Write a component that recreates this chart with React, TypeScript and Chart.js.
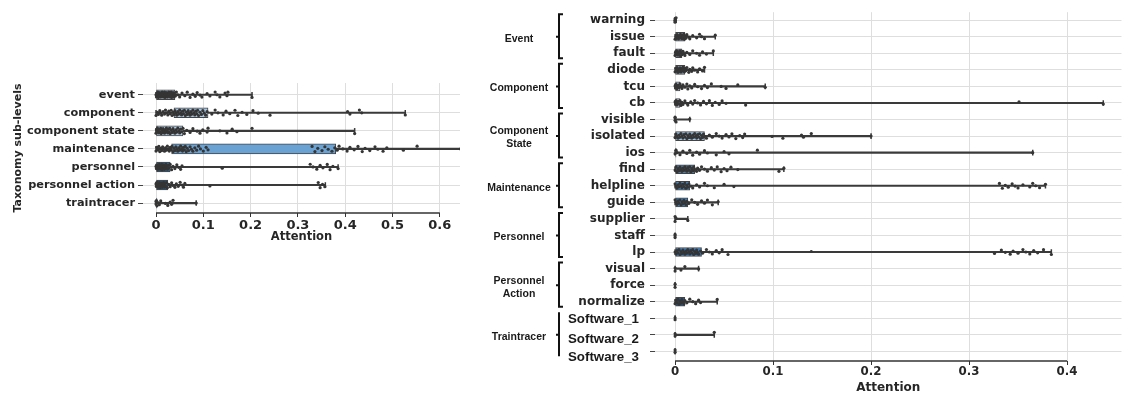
import React, { useEffect, useRef } from 'react';
import { Chart, registerables } from 'chart.js';

Chart.register(...registerables);

// ---------------- data: left panel ----------------
const leftCategories = ['event', 'component', 'component state', 'maintenance', 'personnel', 'personnel action', 'traintracer'];
const leftBoxLow = [0, 0.038, 0, 0.033, 0, 0, 0];
const leftBoxHigh = [0.04, 0.11, 0.057, 0.38, 0.03, 0.025, 0.002];
const leftWhiskerLow = [0, 0, 0, 0, 0, 0, 0];
const leftWhiskerHigh = [0.203, 0.527, 0.42, 0.66, 0.385, 0.358, 0.085];
const leftPoints: number[][] = [
  [0, 0.001, 0.002, 0.003, 0.004, 0.005, 0.006, 0.007, 0.008, 0.009, 0.01, 0.011, 0.012, 0.013, 0.014, 0.015, 0.016, 0.017, 0.018, 0.019, 0.02, 0.021, 0.022, 0.023, 0.024, 0.025, 0.026, 0.027, 0.028, 0.029, 0.03, 0.031, 0.032, 0.033, 0.034, 0.035, 0.036, 0.037, 0.038, 0.039, 0.041, 0.043, 0.046, 0.05, 0.055, 0.061, 0.066, 0.072, 0.078, 0.083, 0.087, 0.093, 0.097, 0.108, 0.114, 0.125, 0.129, 0.135, 0.146, 0.15, 0.152, 0.203],
  [0, 0.003, 0.005, 0.008, 0.01, 0.012, 0.015, 0.018, 0.02, 0.022, 0.025, 0.027, 0.03, 0.032, 0.034, 0.036, 0.038, 0.04, 0.042, 0.044, 0.046, 0.048, 0.05, 0.052, 0.054, 0.056, 0.058, 0.06, 0.062, 0.064, 0.066, 0.068, 0.07, 0.072, 0.074, 0.076, 0.078, 0.08, 0.082, 0.084, 0.086, 0.088, 0.09, 0.093, 0.096, 0.099, 0.102, 0.105, 0.108, 0.118, 0.125, 0.131, 0.142, 0.148, 0.156, 0.167, 0.173, 0.182, 0.192, 0.205, 0.216, 0.241, 0.405, 0.41, 0.43, 0.435, 0.527],
  [0, 0.001, 0.002, 0.003, 0.005, 0.006, 0.007, 0.009, 0.01, 0.011, 0.013, 0.014, 0.015, 0.017, 0.018, 0.019, 0.021, 0.022, 0.023, 0.025, 0.026, 0.027, 0.029, 0.03, 0.032, 0.034, 0.036, 0.038, 0.04, 0.042, 0.044, 0.046, 0.048, 0.05, 0.052, 0.054, 0.057, 0.06, 0.065, 0.072, 0.078, 0.087, 0.093, 0.099, 0.108, 0.11, 0.135, 0.15, 0.161, 0.171, 0.203, 0.42],
  [0, 0.002, 0.004, 0.006, 0.008, 0.01, 0.012, 0.014, 0.016, 0.018, 0.02, 0.022, 0.024, 0.026, 0.028, 0.03, 0.032, 0.034, 0.036, 0.038, 0.04, 0.042, 0.044, 0.046, 0.048, 0.05, 0.052, 0.054, 0.056, 0.058, 0.06, 0.062, 0.064, 0.066, 0.069, 0.072, 0.075, 0.078, 0.082, 0.086, 0.09, 0.094, 0.1, 0.106, 0.11, 0.33, 0.336, 0.342, 0.351, 0.357, 0.364, 0.372, 0.378, 0.383, 0.387, 0.395, 0.404, 0.41, 0.419, 0.427, 0.436, 0.442, 0.452, 0.463, 0.469, 0.48, 0.488, 0.523, 0.552, 0.644],
  [0, 0.001, 0.002, 0.003, 0.004, 0.005, 0.006, 0.007, 0.008, 0.009, 0.01, 0.011, 0.012, 0.013, 0.014, 0.015, 0.016, 0.017, 0.018, 0.019, 0.02, 0.021, 0.022, 0.024, 0.026, 0.028, 0.03, 0.033, 0.036, 0.04, 0.044, 0.048, 0.052, 0.055, 0.14, 0.326, 0.332, 0.34, 0.347, 0.353, 0.362, 0.368, 0.374, 0.385],
  [0, 0.001, 0.002, 0.003, 0.004, 0.005, 0.006, 0.007, 0.008, 0.009, 0.01, 0.011, 0.012, 0.013, 0.014, 0.015, 0.016, 0.017, 0.018, 0.019, 0.02, 0.022, 0.024, 0.027, 0.03, 0.033, 0.036, 0.04, 0.043, 0.047, 0.051, 0.055, 0.058, 0.061, 0.114, 0.343, 0.347, 0.352, 0.357],
  [0, 0, 0.001, 0.002, 0.004, 0.007, 0.01, 0.02, 0.025, 0.03, 0.033, 0.036, 0.085],
];
const leftXTicks = [0, 0.1, 0.2, 0.3, 0.4, 0.5, 0.6];
const leftXTickLabels = ['0', '0.1', '0.2', '0.3', '0.4', '0.5', '0.6'];

// ---------------- data: right panel ----------------
const rightCategories = ['warning', 'issue', 'fault', 'diode', 'tcu', 'cb', 'visible', 'isolated', 'ios', 'find', 'helpline', 'guide', 'supplier', 'staff', 'lp', 'visual', 'force', 'normalize', 'Software_1', 'Software_2', 'Software_3'];
const rightBoxLow = [0, 0, 0, 0, 0, 0, 0, 0, 0, 0, 0, 0, 0, 0, 0, 0, 0, 0, 0, 0, 0];
const rightBoxHigh = [0, 0.01, 0.007, 0.01, 0.005, 0.005, 0, 0.03, 0.001, 0.02, 0.015, 0.013, 0, 0, 0.027, 0, 0, 0.01, 0, 0, 0];
const rightWhiskerLow = [0, 0, 0, 0, 0, 0, 0, 0, 0, 0, 0, 0, 0, 0, 0, 0, 0, 0, 0, 0, 0];
const rightWhiskerHigh = [0.001, 0.041, 0.039, 0.03, 0.092, 0.437, 0.015, 0.2, 0.365, 0.111, 0.378, 0.044, 0.013, 0, 0.384, 0.024, 0, 0.043, 0, 0.04, 0];
const rightPoints: number[][] = [
  [0, 0, 0, 0, 0.001],
  [0, 0.001, 0.0015, 0.002, 0.003, 0.0035, 0.004, 0.005, 0.0055, 0.006, 0.007, 0.0075, 0.008, 0.009, 0.0095, 0.01, 0.011, 0.012, 0.014, 0.015, 0.018, 0.022, 0.025, 0.027, 0.03, 0.041],
  [0, 0.0005, 0.001, 0.0015, 0.002, 0.003, 0.0035, 0.004, 0.005, 0.0055, 0.006, 0.007, 0.008, 0.009, 0.01, 0.012, 0.015, 0.018, 0.022, 0.025, 0.028, 0.032, 0.039],
  [0, 0.001, 0.0015, 0.002, 0.003, 0.0035, 0.004, 0.005, 0.0055, 0.006, 0.007, 0.0075, 0.008, 0.009, 0.0095, 0.01, 0.011, 0.012, 0.014, 0.015, 0.017, 0.018, 0.02, 0.023, 0.025, 0.028, 0.03],
  [0, 0.0005, 0.001, 0.0015, 0.002, 0.003, 0.004, 0.005, 0.006, 0.007, 0.008, 0.01, 0.012, 0.013, 0.015, 0.017, 0.02, 0.023, 0.027, 0.03, 0.033, 0.037, 0.047, 0.052, 0.064, 0.092],
  [0, 0.0005, 0.001, 0.0015, 0.002, 0.003, 0.004, 0.005, 0.006, 0.007, 0.008, 0.01, 0.012, 0.013, 0.016, 0.018, 0.02, 0.023, 0.026, 0.029, 0.032, 0.035, 0.038, 0.041, 0.045, 0.048, 0.052, 0.072, 0.351, 0.437],
  [0, 0, 0, 0.001, 0.015],
  [0, 0.001, 0.002, 0.003, 0.004, 0.005, 0.006, 0.007, 0.008, 0.009, 0.01, 0.011, 0.012, 0.013, 0.014, 0.015, 0.016, 0.017, 0.018, 0.019, 0.02, 0.021, 0.022, 0.023, 0.024, 0.025, 0.026, 0.027, 0.028, 0.029, 0.03, 0.032, 0.035, 0.038, 0.042, 0.045, 0.048, 0.052, 0.055, 0.058, 0.062, 0.066, 0.069, 0.071, 0.099, 0.11, 0.129, 0.131, 0.139, 0.2],
  [0, 0.001, 0.002, 0.005, 0.008, 0.012, 0.015, 0.018, 0.022, 0.025, 0.03, 0.033, 0.042, 0.05, 0.055, 0.084, 0.365],
  [0, 0.001, 0.002, 0.003, 0.004, 0.005, 0.006, 0.007, 0.008, 0.009, 0.01, 0.011, 0.012, 0.013, 0.014, 0.015, 0.016, 0.017, 0.018, 0.019, 0.02, 0.022, 0.023, 0.025, 0.027, 0.03, 0.033, 0.037, 0.04, 0.043, 0.047, 0.05, 0.053, 0.057, 0.064, 0.106, 0.111],
  [0, 0.001, 0.002, 0.003, 0.004, 0.005, 0.006, 0.007, 0.008, 0.009, 0.01, 0.011, 0.012, 0.013, 0.014, 0.016, 0.018, 0.022, 0.025, 0.03, 0.033, 0.04, 0.05, 0.06, 0.331, 0.334, 0.337, 0.34, 0.344, 0.347, 0.35, 0.355, 0.362, 0.365, 0.368, 0.372, 0.378],
  [0, 0.001, 0.002, 0.003, 0.004, 0.005, 0.006, 0.007, 0.008, 0.009, 0.01, 0.011, 0.012, 0.014, 0.017, 0.02, 0.023, 0.027, 0.03, 0.033, 0.038, 0.044],
  [0, 0, 0.001, 0.013],
  [0, 0, 0],
  [0, 0.001, 0.002, 0.003, 0.004, 0.005, 0.006, 0.007, 0.008, 0.009, 0.01, 0.011, 0.012, 0.013, 0.014, 0.015, 0.016, 0.017, 0.018, 0.019, 0.02, 0.021, 0.022, 0.023, 0.024, 0.026, 0.028, 0.032, 0.035, 0.038, 0.042, 0.045, 0.048, 0.054, 0.139, 0.326, 0.333, 0.337, 0.342, 0.345, 0.35, 0.355, 0.358, 0.362, 0.366, 0.37, 0.376, 0.384],
  [0, 0, 0.006, 0.01, 0.024],
  [0, 0],
  [0, 0.001, 0.002, 0.003, 0.004, 0.005, 0.006, 0.007, 0.008, 0.009, 0.01, 0.012, 0.015, 0.018, 0.021, 0.024, 0.026, 0.043],
  [0, 0],
  [0, 0, 0.04],
  [0, 0],
];
const rightGroupNames = ['Event', 'Component', 'Component\nState', 'Maintenance', 'Personnel', 'Personnel\nAction', 'Traintracer'];
const rightGroupFirst = [0, 3, 6, 9, 12, 15, 18];
const rightGroupLast = [2, 5, 8, 11, 14, 17, 20];
const rightXTicks = [0, 0.1, 0.2, 0.3, 0.4];
const rightXTickLabels = ['0', '0.1', '0.2', '0.3', '0.4'];

// ---------------- styles ----------------
const leftBoxColors = ['#a9bfd6', '#a7c6e2', '#b3cfe8', '#6aa3d3', '#2f6a9f', '#245e95', '#3d7bb5'];
const rightBoxColors = ['#c4d7ea', '#8ea7c0', '#9bb0c6', '#8ea3b8', '#b7cde3', '#c1d5e9', '#c8dcef', '#9fc7e8', '#c4d7ea', '#4f7fab', '#4a8fca', '#3f86c6', '#c4d7ea', '#c4d7ea', '#3a7dbd', '#c4d7ea', '#c4d7ea', '#2a5e95', '#c4d7ea', '#c4d7ea', '#c4d7ea'];
const bracketStubs = [true, true, true, true, true, true, false];
const softwareLabelOffsets = [1, 5, 6];
const jitter = [0, 0.12, -0.09, 0.05, -0.14, 0.15, -0.03, 0.09, -0.12, 0.02, 0.13, -0.06, 0.07, -0.15];
const TEXT = '#262626';
const FONT = "'DejaVu Sans'";

function buildDatasets(
  cats: string[], q1: number[], q3: number[], wLo: number[], wHi: number[], pts: number[][],
  colors: string[], boxPx: number, capR: number
): any[] {
  return [
    {
      type: 'scatter',
      data: pts.flatMap((row, i) => row.map((v, k) => ({ x: v, y: i + jitter[(k + i * 5) % jitter.length] }))),
      pointRadius: 1.6,
      pointBackgroundColor: '#353535',
      pointBorderWidth: 0,
      order: 1,
    },
    {
      type: 'scatter',
      data: cats.flatMap((_, i) => [{ x: wLo[i], y: i }, { x: wHi[i], y: i }]),
      pointStyle: 'line',
      rotation: 90,
      pointRadius: capR,
      pointBorderColor: '#383838',
      pointBorderWidth: 1.5,
      order: 2,
    },
    {
      type: 'bar',
      indexAxis: 'y',
      grouped: false,
      data: cats.map((_, i) => ({ x: [q1[i], q3[i]], y: i })),
      backgroundColor: colors,
      borderColor: '#444444',
      borderWidth: 1,
      borderSkipped: false,
      barThickness: boxPx,
      maxBarThickness: boxPx,
      clip: 0,
      order: 3,
    },
    {
      type: 'bar',
      indexAxis: 'y',
      grouped: false,
      data: cats.map((_, i) => ({ x: [wLo[i], wHi[i]], y: i })),
      backgroundColor: '#3a3a3a',
      borderWidth: 0,
      barThickness: 1.5,
      maxBarThickness: 1.5,
      clip: 0,
      order: 4,
    },
  ];
}

function trimSpine(lastTick: number) {
  return {
    id: 'trimSpine',
    afterDraw(chart: any) {
      const { ctx, chartArea, scales } = chart;
      const x0 = scales.x.getPixelForValue(0);
      const x1 = scales.x.getPixelForValue(lastTick);
      ctx.save();
      ctx.strokeStyle = '#333333';
      ctx.lineWidth = 1.3;
      ctx.beginPath();
      ctx.moveTo(x0, chartArea.bottom);
      ctx.lineTo(x1, chartArea.bottom);
      ctx.stroke();
      ctx.restore();
    },
  };
}

const groupPlugin = {
  id: 'groups',
  afterDraw(chart: any) {
    const { ctx } = chart;
    const y = chart.scales.y;
    ctx.save();
    rightGroupNames.forEach((name, g) => {
      const top = y.getPixelForValue(rightGroupFirst[g] - 0.36);
      const bot = y.getPixelForValue(rightGroupLast[g] + 0.3);
      const mid = y.getPixelForValue((rightGroupFirst[g] + rightGroupLast[g]) / 2);
      const bx = 89;
      ctx.strokeStyle = '#111111';
      ctx.lineWidth = 2;
      ctx.beginPath();
      if (bracketStubs[g]) {
        ctx.moveTo(bx + 4, top);
        ctx.lineTo(bx, top);
        ctx.lineTo(bx, bot);
        ctx.lineTo(bx + 4, bot);
      } else {
        ctx.moveTo(bx, top);
        ctx.lineTo(bx, bot);
      }
      ctx.moveTo(bx, mid);
      ctx.lineTo(bx - 3, mid);
      ctx.stroke();
      const lines = name.split('\n');
      ctx.fillStyle = '#1a1a1a';
      ctx.font = 'bold 10.5px "Liberation Sans"';
      ctx.textAlign = 'center';
      ctx.textBaseline = 'middle';
      lines.forEach((ln, k) => ctx.fillText(ln, 49, mid + 2 + (k - (lines.length - 1) / 2) * 13));
    });
    ctx.font = 'bold 13.3px "Liberation Sans"';
    ctx.textAlign = 'left';
    ctx.textBaseline = 'middle';
    ctx.fillStyle = '#1a1a1a';
    let s = 0;
    rightCategories.forEach((c, i) => {
      if (c.startsWith('Software')) {
        ctx.fillText(c, 98, y.getPixelForValue(i) + softwareLabelOffsets[s]);
        s++;
      }
    });
    ctx.restore();
  },
};

function makeScales(
  xMin: number, xMax: number, xH: number, xTicks: number[], xLabels: string[], xTickSize: number,
  xTickPad: number, xTitleSize: number, xTitlePad: number,
  cats: string[], yMin: number, yMax: number, yW: number, yTickSize: number, yTickPad: number,
  yLabel: (c: string) => string, yTitle: any
) {
  return {
    x: {
      type: 'linear',
      offset: false,
      min: xMin,
      max: xMax,
      afterFit: (s: any) => { s.height = xH; },
      afterBuildTicks: (s: any) => { s.ticks = xTicks.map((v) => ({ value: v })); },
      ticks: {
        callback: (_v: any, i: number) => xLabels[i],
        font: { family: FONT, size: xTickSize, weight: 'bold' },
        color: TEXT,
        padding: xTickPad,
        maxRotation: 0,
        autoSkip: false,
      },
      grid: { offset: false, color: '#dedede', lineWidth: 1, tickColor: '#333333', tickLength: 4 },
      border: { display: false },
      title: { display: true, text: 'Attention', font: { family: FONT, size: xTitleSize, weight: 'bold' }, color: TEXT, padding: { top: 0, bottom: xTitlePad } },
    },
    y: {
      type: 'linear',
      offset: false,
      reverse: true,
      min: yMin,
      max: yMax,
      afterFit: (s: any) => { s.width = yW; },
      afterBuildTicks: (s: any) => { s.ticks = cats.map((_, i) => ({ value: i })); },
      ticks: {
        callback: (v: any) => yLabel(cats[Math.round(v)]),
        font: { family: FONT, size: yTickSize, weight: 'bold' },
        color: TEXT,
        padding: yTickPad,
        autoSkip: false,
      },
      grid: { offset: false, color: '#dedede', lineWidth: 1, tickColor: '#444444', tickLength: 5 },
      border: { display: false },
      title: yTitle,
    },
  };
}

export default function App() {
  const leftRef = useRef<HTMLCanvasElement>(null);
  const rightRef = useRef<HTMLCanvasElement>(null);

  useEffect(() => {
    const left = new Chart(leftRef.current as HTMLCanvasElement, {
      type: 'scatter',
      data: {
        datasets: buildDatasets(leftCategories, leftBoxLow, leftBoxHigh, leftWhiskerLow, leftWhiskerHigh, leftPoints, leftBoxColors, 10, 2.8),
      },
      options: {
        responsive: false,
        animation: false,
        events: [],
        layout: { padding: { top: 83, right: 10, bottom: 7, left: 0 } },
        plugins: { legend: { display: false }, tooltip: { enabled: false } },
        scales: makeScales(
          -0.0275, 0.6427, 40, leftXTicks, leftXTickLabels, 13, 1, 11.5, 9.4,
          leftCategories, -0.65, 6.55, 143, 11.3, 3, (c) => c,
          { display: true, text: 'Taxonomy sub-levels', font: { family: FONT, size: 11, weight: 'bold' }, color: TEXT, padding: { top: 11.4, bottom: 0 } }
        ),
      } as any,
      plugins: [trimSpine(0.6)],
    });

    const right = new Chart(rightRef.current as HTMLCanvasElement, {
      type: 'scatter',
      data: {
        datasets: buildDatasets(rightCategories, rightBoxLow, rightBoxHigh, rightWhiskerLow, rightWhiskerHigh, rightPoints, rightBoxColors, 9, 2.8),
      },
      options: {
        responsive: false,
        animation: false,
        events: [],
        layout: { padding: { top: 8, right: 0, bottom: 0, left: 0 } },
        plugins: { legend: { display: false }, tooltip: { enabled: false } },
        scales: makeScales(
          -0.0205, 0.4556, 36, rightXTicks, rightXTickLabels, 11.8, 0, 12, 1.8,
          rightCategories, -0.48, 20.58, 185, 12, 5, (c) => (c.startsWith('Software') ? '' : c),
          { display: false }
        ),
      } as any,
      plugins: [trimSpine(0.4), groupPlugin],
    });

    return () => {
      left.destroy();
      right.destroy();
    };
  }, []);

  return (
    <div style={{ position: 'fixed', left: 0, top: 0, width: 1127, height: 397, background: '#ffffff' }}>
      <canvas ref={leftRef} width={470} height={260} style={{ position: 'absolute', left: 0, top: 0 }} />
      <canvas ref={rightRef} width={657} height={397} style={{ position: 'absolute', left: 470, top: 0 }} />
    </div>
  );
}
